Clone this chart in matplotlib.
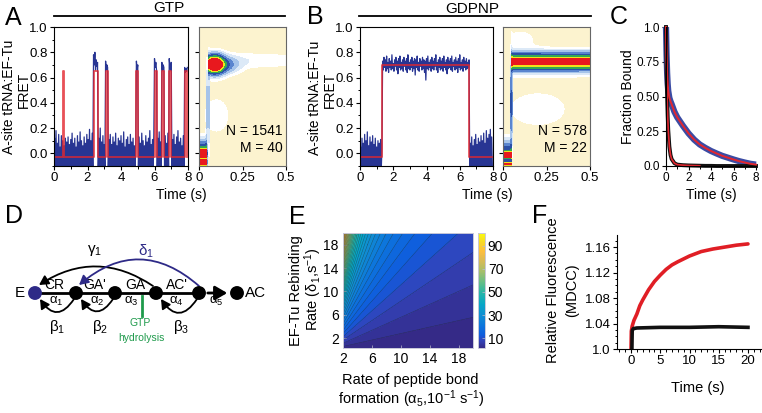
import numpy as np
import matplotlib
matplotlib.use('Agg')
import matplotlib.pyplot as plt
from matplotlib.patches import FancyArrowPatch
from matplotlib.colors import LinearSegmentedColormap, Normalize, ListedColormap, BoundaryNorm
from matplotlib.ticker import MultipleLocator
from matplotlib.cm import ScalarMappable

plt.rcParams['font.family'] = ['Liberation Sans', 'DejaVu Sans']
plt.rcParams['mathtext.fontset'] = 'custom'
plt.rcParams['mathtext.rm'] = 'Liberation Sans'
plt.rcParams['mathtext.it'] = 'Liberation Sans'
plt.rcParams['mathtext.bf'] = 'Liberation Sans:bold'
plt.rcParams['mathtext.default'] = 'regular'

# ------------------------------------------------------------------ data
trace_dt = 0.04  # s per sample
gtp_trace = [
    -0.12, 0.12, -0.10, 0.18, -0.12, 0.08, -0.11, 0.15, -0.12, 0.05,
    -0.10, 0.14, -0.12, 0.10, -0.11, 0.06, -0.12, 0.12, -0.10, 0.09,
    -0.12, 0.13, -0.10, 0.07, -0.12, 0.11, -0.11, 0.16, -0.12, 0.08,
    -0.10, 0.12, -0.12, 0.05, -0.11, 0.14, -0.12, 0.09, -0.10, 0.17,
    -0.12, 0.10, -0.11, 0.06, -0.12, 0.13, -0.10, 0.08, -0.12, 0.15,
    -0.11, 0.11, -0.12, 0.19, -0.10, 0.10, -0.12, 0.16, -0.11,
    0.78, 0.70, 0.80, 0.66, 0.74, 0.69, 0.72,
    -0.12, 0.12, -0.10, 0.20, -0.12, 0.09, -0.11, 0.14, -0.12, 0.07, -0.10,
    0.73, 0.66, 0.70, 0.68,
    -0.12, 0.11, -0.10, 0.15, -0.12, 0.07, -0.11, 0.13, -0.12, 0.09,
    -0.10, 0.16, -0.12, 0.06, -0.11, 0.12, -0.12, 0.10, -0.10, 0.14,
    -0.12, 0.08, -0.11, 0.17, -0.12, 0.05, -0.10, 0.11, -0.12, 0.13,
    -0.11, 0.07, -0.12, 0.15, -0.10, 0.09, -0.12, 0.12, -0.11, 0.06,
    -0.12, 0.10,
    0.73, 0.66, 0.70,
    -0.12, 0.13, -0.10, 0.08, -0.12, 0.16, -0.11, 0.10, -0.12, 0.06,
    -0.10, 0.14, -0.12, 0.09, -0.11, 0.12, -0.12, 0.18, -0.10, 0.07,
    -0.12, 0.11, -0.11, 0.15,
    0.75, 0.68, 0.72, 0.66,
    -0.12, 0.12, -0.10, 0.17, -0.12, 0.09, -0.11,
    0.72, 0.66, 0.70, 0.68,
    -0.12, 0.14, -0.10, 0.08, -0.12, 0.16, -0.11,
    0.75, 0.69, 0.66, 0.72,
    -0.12, 0.11, -0.10, 0.15, -0.12, 0.07, -0.11, 0.13, -0.12, 0.18,
    -0.10, 0.09, -0.12, 0.12, -0.11, 0.06, -0.12, 0.14, -0.10,
    0.68, 0.64, 0.67, 0.65, 0.68,
]
gtp_ideal_levels = (-0.03, 0.65)
gtp_events = [(0.52, 0.58), (2.37, 2.63), (3.08, 3.22), (4.90, 5.03),
              (6.00, 6.14), (6.45, 6.57), (6.87, 7.00), (7.80, 7.95)]

gdpnp_trace = [
    -0.12, 0.05, -0.10, 0.12, -0.12, 0.08, -0.11, 0.15, -0.12, 0.10,
    -0.10, 0.17, -0.12, 0.06, -0.11, 0.13, -0.12, 0.09, -0.10, 0.14,
    -0.12, 0.07, -0.11, 0.12, -0.12, 0.05, -0.10, 0.10, -0.12, 0.08,
    -0.11, 0.11, -0.12, 0.04,
    0.73, 0.66, 0.76, 0.68, 0.74, 0.65, 0.77, 0.67, 0.72, 0.64,
    0.75, 0.68, 0.73, 0.66, 0.78, 0.67, 0.71, 0.65, 0.74, 0.69,
    0.76, 0.66, 0.73, 0.63, 0.75, 0.68, 0.77, 0.66, 0.72, 0.67,
    0.74, 0.65, 0.76, 0.69, 0.73, 0.66, 0.75, 0.64, 0.78, 0.67,
    0.72, 0.66, 0.74, 0.68, 0.76, 0.65, 0.73, 0.67, 0.75, 0.62,
    0.74, 0.68, 0.77, 0.66, 0.72, 0.65, 0.75, 0.69, 0.73, 0.66,
    0.76, 0.67, 0.74, 0.64, 0.73, 0.58, 0.75, 0.67, 0.77, 0.66,
    0.72, 0.68, 0.74, 0.65, 0.76, 0.67, 0.73, 0.66, 0.75, 0.69,
    0.78, 0.66, 0.72, 0.64, 0.74, 0.68, 0.76, 0.66, 0.73, 0.67,
    0.75, 0.65, 0.77, 0.68, 0.72, 0.66, 0.74, 0.63, 0.76, 0.67,
    0.73, 0.68, 0.75, 0.66, 0.77, 0.65, 0.72, 0.69, 0.74, 0.66,
    0.76, 0.67, 0.73, 0.64, 0.75, 0.68, 0.78, 0.66, 0.72, 0.67,
    0.74, 0.65, 0.76, 0.68, 0.73, 0.66, 0.75, 0.67, 0.72, 0.68,
    0.74,
    -0.12, 0.08, -0.10, 0.13, -0.12, 0.06, -0.11, 0.11, -0.12, 0.15,
    -0.10, 0.07, -0.12, 0.12, -0.11, 0.09, -0.12, 0.14, -0.10, 0.10,
    -0.12, 0.16, -0.11, 0.08, -0.12, 0.18, -0.10, 0.12, -0.12, 0.15,
    -0.11, 0.19, -0.12, 0.13, -0.10,
]
gdpnp_ideal_levels = (-0.03, 0.70)
gdpnp_events = [(1.35, 6.58)]
trace_end = 7.96

# post-synchronized FRET density components:
# (t_start, t_end, t_center, t_sigma, fret_center, fret_sigma, weight)
gtp_heat_components = [
    (0.053, 0.50, 0.088, 0.034, 0.705, 0.045, 1.00),
    (0.053, 0.50, 0.125, 0.060, 0.700, 0.040, 0.30),
    (0.053, 0.50, 0.320, 0.200, 0.735, 0.040, 0.045),
    (0.045, 0.060, 0.050, 99.0, 0.380, 0.200, 0.12),
    (0.040, 0.50, 0.100, 0.090, 0.300, 0.170, 0.026),
    (0.000, 0.045, 0.020, 99.0, -0.075, 0.016, 0.90),
    (0.000, 0.045, 0.020, 99.0, 0.000, 0.016, 0.90),
    (0.000, 0.045, 0.020, 99.0, 0.000, 0.060, 0.60),
]
gtp_heat_n, gtp_heat_m = 1541, 40
gdpnp_heat_components = [
    (0.050, 0.50, 0.300, 99.0, 0.725, 0.042, 0.80),
    (0.000, 0.050, 0.020, 99.0, -0.012, 0.014, 0.90),
    (0.000, 0.050, 0.020, 99.0, 0.000, 0.060, 0.40),
    (0.000, 0.050, 0.020, 99.0, -0.085, 0.010, 0.60),
    (0.043, 0.052, 0.050, 99.0, 0.400, 0.200, 0.30),
    (0.050, 0.50, 0.100, 0.080, 0.900, 0.070, 0.028),
    (0.050, 0.50, 0.200, 0.250, 0.350, 0.200, 0.024),
]
gdpnp_heat_n, gdpnp_heat_m = 578, 22
heat_levels = [0, 0.02, 0.05, 0.10, 0.18, 0.28, 0.40, 0.55, 0.70, 100]
heat_colors = ['#fcf3cf', '#ffffff', '#dce9f7', '#a6c4ea', '#5a85cf',
               '#2b4fa6', '#34a853', '#f0e41a', '#e8181e']

# panel C: fraction bound
c_time = [0, 0.05, 0.1, 0.15, 0.2, 0.3, 0.4, 0.5, 0.75, 1.0, 1.5, 2.0, 2.5,
          3.0, 3.5, 4.0, 4.5, 5.0, 5.5, 6.0, 6.5, 7.0, 7.5, 8.0]
c_slow = [1.0, 0.80, 0.67, 0.59, 0.54, 0.49, 0.465, 0.445, 0.39, 0.35, 0.29,
          0.235, 0.19, 0.155, 0.13, 0.108, 0.09, 0.073, 0.06, 0.047, 0.035,
          0.025, 0.016, 0.010]
c_fast = [1.0, 0.72, 0.50, 0.36, 0.26, 0.14, 0.08, 0.05, 0.02, 0.01, 0.006,
          0.004, 0.003, 0.002, 0.001, 0.001, 0.0, 0.0, 0.0, 0.0, 0.0, 0.0,
          0.0, 0.0]

# panel E: EF-Tu rebinding surface
e_alpha5 = np.linspace(2, 20, 181)
e_delta1 = np.linspace(0, 20, 201)
e_base, e_slope = 0.0, 9.0
e_levels = np.arange(0, 105, 2.5)
e_cbar_ticks = [10, 30, 50, 70, 90]

# panel F: MDCC fluorescence
f_red_time = [0, 0.05, 0.2, 0.5, 1, 1.5, 2, 3, 4, 5, 6, 7, 8, 10, 12, 14,
              16, 18, 20]
f_red = [1.0, 1.028, 1.036, 1.045, 1.055, 1.068, 1.077, 1.093, 1.106, 1.116,
         1.125, 1.132, 1.137, 1.146, 1.153, 1.157, 1.160, 1.163, 1.165]
f_black_time = [0.15, 0.2, 0.4, 1, 5, 10, 15, 20]
f_black = [1.0, 1.029, 1.032, 1.033, 1.034, 1.034, 1.035, 1.034]

parula_anchors = [
    (0.2081, 0.1663, 0.5292), (0.1959, 0.2645, 0.7279),
    (0.0591, 0.3598, 0.8683), (0.0498, 0.4586, 0.8641),
    (0.0641, 0.5570, 0.8240), (0.0228, 0.6535, 0.7768),
    (0.1453, 0.7098, 0.6646), (0.3953, 0.7459, 0.5244),
    (0.6473, 0.7456, 0.4188), (0.8507, 0.7299, 0.3360),
    (0.9938, 0.7455, 0.2403), (0.9697, 0.8481, 0.1475),
    (0.9763, 0.9831, 0.0538)]
parula_pos = [0, 4, 7, 12, 18, 24, 30, 36, 42, 48, 53, 58, 63]

# ------------------------------------------------------------------ figure
W, H = 762, 413
fig = plt.figure(figsize=(W / 100, H / 100), dpi=100)

BLUE = '#283593'
RED = '#e3262e'
TICK = 9.5
LAB = 10


def ax_px(x0, y0, x1, y1, **kw):
    return fig.add_axes([x0 / W, 1 - y1 / H, (x1 - x0) / W, (y1 - y0) / H], **kw)


def ftext(x, y, s, **kw):
    kw.setdefault('ha', 'center')
    kw.setdefault('va', 'center')
    return fig.text(x / W, 1 - y / H, s, **kw)


def style_ticks(ax, size=TICK):
    ax.tick_params(which='major', direction='out', length=3, width=0.8,
                   labelsize=size, pad=1.5)
    ax.tick_params(which='minor', direction='out', length=1.8, width=0.7)


def ideal_path(events, levels, end):
    lo, hi = levels
    xs, ys = [0.0], [lo]
    for s, e in events:
        xs += [s, s, e, e]
        ys += [lo, hi, hi, lo]
    xs.append(end)
    ys.append(lo)
    return xs, ys


def draw_trace(ax, vals, events, levels):
    t = np.arange(len(vals)) * trace_dt
    ax.plot(t, vals, color=BLUE, lw=0.9)
    xs, ys = ideal_path(events, levels, trace_end)
    ax.plot(xs, ys, color=RED, lw=1.3, alpha=0.8)
    ax.set_xlim(0, 8)
    ax.set_ylim(-0.1, 1.0)
    ax.set_xticks([0, 2, 4, 6, 8])
    ax.xaxis.set_minor_locator(MultipleLocator(1))
    ax.set_yticks([0, 0.2, 0.4, 0.6, 0.8, 1.0])
    ax.set_yticklabels(['0.0', '0.2', '0.4', '0.6', '0.8', '1.0'])
    ax.yaxis.set_minor_locator(MultipleLocator(0.1))
    style_ticks(ax)
    for s in ax.spines.values():
        s.set_linewidth(0.8)


def draw_heat(ax, comps, n, m):
    t = np.linspace(0, 0.5, 401)
    f = np.linspace(-0.1, 1.0, 441)
    T, F = np.meshgrid(t, f)
    D = np.zeros_like(T)
    for (t0, t1, tc, st, fc, sf, w) in comps:
        mask = (T >= t0) & (T <= t1)
        D += w * mask * np.exp(-0.5 * ((T - tc) / st) ** 2) * \
            np.exp(-0.5 * ((F - fc) / sf) ** 2)
    cmap = ListedColormap(heat_colors)
    norm = BoundaryNorm(heat_levels, cmap.N)
    ax.contourf(T, F, D, levels=heat_levels, cmap=cmap, norm=norm)
    ax.set_xlim(0, 0.5)
    ax.set_ylim(-0.1, 1.0)
    ax.set_xticks([0, 0.25, 0.5])
    ax.set_xticklabels(['0', '0.25', '0.5'])
    ax.set_yticks([0, 0.2, 0.4, 0.6, 0.8])
    ax.set_yticklabels([])
    style_ticks(ax)
    for s in ax.spines.values():
        s.set_color('#666666')
        s.set_linewidth(0.8)
    ax.text(0.48, 0.175, f'N = {n}', fontsize=10, ha='right', va='center')
    ax.text(0.48, 0.045, f'M = {m}', fontsize=10, ha='right', va='center')


# --- panel A
axA = ax_px(54, 27, 188, 166)
draw_trace(axA, gtp_trace, gtp_events, gtp_ideal_levels)
axAh = ax_px(199, 27, 286, 166)
draw_heat(axAh, gtp_heat_components, gtp_heat_n, gtp_heat_m)
ftext(9, 97, 'A-site tRNA:EF-Tu', rotation=90, fontsize=LAB)
ftext(24, 90, 'FRET', rotation=90, fontsize=LAB)
ftext(181, 195, 'Time (s)', fontsize=LAB)

# --- panel B
axB = ax_px(360, 27, 493, 166)
draw_trace(axB, gdpnp_trace, gdpnp_events, gdpnp_ideal_levels)
axBh = ax_px(503, 27, 590, 166)
draw_heat(axBh, gdpnp_heat_components, gdpnp_heat_n, gdpnp_heat_m)
ftext(315, 98, 'A-site tRNA:EF-Tu', rotation=90, fontsize=LAB)
ftext(330, 90, 'FRET', rotation=90, fontsize=LAB)
ftext(487, 195, 'Time (s)', fontsize=LAB)

# --- panel C
axC = ax_px(666, 27, 756, 166)
axC.plot(c_time, c_slow, color='#3b4ba3', lw=4.5, solid_capstyle='butt', clip_on=False)
axC.plot(c_time, c_fast, color='#111111', lw=2.8, clip_on=False)
axC.plot(c_time, c_slow, color=RED, lw=1.4, clip_on=False)
axC.plot(c_time[:14], c_fast[:14], color=RED, lw=1.2, clip_on=False)
axC.set_xlim(0, 8)
axC.set_ylim(0, 1.0)
axC.set_xticks([0, 2, 4, 6, 8])
axC.xaxis.set_minor_locator(MultipleLocator(1))
axC.set_yticks([0, 0.25, 0.5, 0.75, 1.0])
axC.set_yticklabels(['0.0', '0.25', '0.50', '0.75', '1.0'])
axC.spines['top'].set_visible(False)
axC.spines['right'].set_visible(False)
style_ticks(axC, size=8.5)
ftext(628, 97, 'Fraction Bound', rotation=90, fontsize=LAB)
ftext(711, 195, 'Time (s)', fontsize=LAB)

# --- panel E
parula = LinearSegmentedColormap.from_list(
    'parula', [(p / 63, c) for p, c in zip(parula_pos, parula_anchors)])
axE = ax_px(343, 233, 473, 348)
AA, DD = np.meshgrid(e_alpha5, e_delta1)
ZZ = e_base + e_slope * DD / AA
enorm = Normalize(1.5, 101)
axE.contourf(AA, DD, ZZ, levels=e_levels, cmap=parula, norm=enorm, extend='both')
axE.contour(AA, DD, ZZ, levels=e_levels, colors='#222222', linewidths=0.35, alpha=0.55)
axE.set_xlim(2, 20)
axE.set_ylim(0.3, 20)
axE.set_xticks([2, 6, 10, 14, 18])
axE.set_yticks([2, 6, 10, 14, 18])
axE.tick_params(direction='in', length=2, width=0.5, color='#bbbbcc',
                labelsize=TICK + 0.5, pad=3)
for s in axE.spines.values():
    s.set_color('#c8c8d8')
    s.set_linewidth(0.7)
caxE = ax_px(478, 233, 485, 348)
cb = fig.colorbar(ScalarMappable(norm=enorm, cmap=parula), cax=caxE)
cb.set_ticks(e_cbar_ticks)
cb.ax.tick_params(direction='in', length=2, width=0.5, color='#bbbbcc',
                  labelsize=TICK + 0.5, pad=2)
cb.outline.set_edgecolor('#c8c8d8')
cb.outline.set_linewidth(0.7)
ftext(296, 291, 'EF-Tu Rebinding', rotation=90, fontsize=LAB + 0.5)
ftext(313, 289, r'Rate ($\delta_1$,s$^{-1}$)', rotation=90, fontsize=LAB + 0.5)
ftext(410, 380, 'Rate of peptide bond', fontsize=LAB + 0.5)
ftext(411, 399, r'formation ($\alpha_5$,10$^{-1}$ s$^{-1}$)', fontsize=LAB + 0.5)

# --- panel F
axF = ax_px(617, 235, 762, 349)
axF.plot(f_red_time, f_red, color='#e01e25', lw=2.6, solid_capstyle='round')
axF.plot(f_black_time, f_black, color='#111111', lw=2.6)
axF.set_xlim(-2.4, 22.4)
axF.set_ylim(1.0, 1.179)
axF.set_xticks([0, 5, 10, 15, 20])
axF.xaxis.set_minor_locator(MultipleLocator(1))
axF.set_yticks([1.0, 1.04, 1.08, 1.12, 1.16])
axF.set_yticklabels(['1.0', '1.04', '1.08', '1.12', '1.16'])
axF.yaxis.set_minor_locator(MultipleLocator(0.01))
axF.spines['top'].set_visible(False)
axF.spines['right'].set_visible(False)
style_ticks(axF)
ftext(553, 290, 'Relative Fluorescence', rotation=90, fontsize=LAB + 0.5)
ftext(572, 290, '(MDCC)', rotation=90, fontsize=LAB + 0.5)
ftext(698, 388, 'Time (s)', fontsize=LAB + 0.5)

# --- overlay: headers, panel letters, scheme D
ov = fig.add_axes([0, 0, 1, 1], zorder=10)
ov.set_xlim(0, W)
ov.set_ylim(H, 0)
ov.axis('off')
ov.patch.set_alpha(0)

ov.plot([54, 285], [15.5, 15.5], color='k', lw=1.3)
ov.plot([359, 591], [15.5, 15.5], color='k', lw=1.3)
ov.text(169, 8, 'GTP', fontsize=11, ha='center', va='center')
ov.text(472, 9, 'GDPNP', fontsize=11, ha='center', va='center')

for lab, (x, y) in {'A': (13, 18), 'B': (315, 17), 'C': (619, 17),
                    'D': (14, 216), 'E': (297, 217), 'F': (540, 216)}.items():
    ov.text(x, y, lab, fontsize=18, ha='center', va='center')

DBLUE = '#2e2a87'
GREEN = '#1e9a4b'
node_x = [35, 76, 115, 156, 199, 237]
node_y = 293
ov.plot([node_x[0], node_x[4]], [node_y, node_y], color='k', lw=2, zorder=2)
ov.add_patch(FancyArrowPatch((node_x[4] + 6, node_y), (node_x[5] - 7, node_y),
                             arrowstyle='-|>,head_length=0.6,head_width=0.35',
                             mutation_scale=12, color='k', lw=2, zorder=2))
ov.scatter(node_x, [node_y] * 6, s=100, c=[DBLUE] + ['k'] * 5, zorder=5,
           edgecolors='none')
ov.text(20, node_y, 'E', fontsize=11, ha='center', va='center')
ov.text(245, node_y, 'AC', fontsize=11, ha='left', va='center')
for s, x in zip(['CR', "GA'", 'GA', "AC'"], [54, 95, 135, 177]):
    ov.text(x, 285, s, fontsize=10, ha='center', va='center')
for k, x in zip(range(1, 6), [56, 97, 131, 176, 216]):
    ov.text(x, 301, r'$\alpha_%d$' % k, fontsize=9.5, ha='center', va='center')

arrow_kw = dict(arrowstyle='-|>,head_length=0.55,head_width=0.3',
                mutation_scale=10, lw=1.3, shrinkA=0, shrinkB=0, zorder=3)
# backward beta arcs
for (xa, xb), xl, k in zip([(74, 40), (113, 81), (197, 161)], [57, 100, 181], [1, 2, 3]):
    ov.add_patch(FancyArrowPatch((xa, 299), (xb, 299),
                                 connectionstyle='arc3,rad=-0.75', color='k', **arrow_kw))
    ov.text(xl, 327, r'$\beta_%d$' % k, fontsize=11, ha='center', va='center')
# gamma arc
ov.add_patch(FancyArrowPatch((153, 286), (39, 285),
                             connectionstyle='arc3,rad=0.33', color='k', **arrow_kw))
ov.text(95, 250, r'$\gamma_1$', fontsize=11, ha='center', va='center')
# delta arc
ov.add_patch(FancyArrowPatch((199, 286), (79, 285),
                             connectionstyle='arc3,rad=0.43', color=DBLUE, **arrow_kw))
ov.text(146, 251, r'$\delta_1$', fontsize=11, ha='center', va='center', color=DBLUE)
# GTP hydrolysis
ov.plot([142, 142], [296, 316], color=GREEN, lw=2)
ov.text(140, 323.5, 'GTP', fontsize=7.5, color=GREEN, ha='center', va='center')
ov.text(141, 338, 'hydrolysis', fontsize=7.5, color=GREEN, ha='center', va='center')

fig.savefig('out.png', dpi=100)
